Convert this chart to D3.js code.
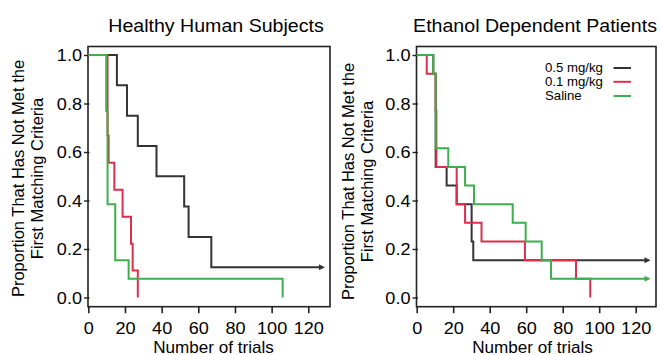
<!DOCTYPE html>
<html><head><meta charset="utf-8">
<script src="https://cdn.jsdelivr.net/npm/d3@7"></script>
<style>
body{margin:0;background:#fff;}
text{font-family:"Liberation Sans",Arial,Helvetica,sans-serif;fill:#000;}
</style></head>
<body>
<svg id="chart" width="660" height="355"></svg>
<script>
// ---------- data ----------
const panelTitles = ["Healthy Human Subjects", "Ethanol Dependent Patients"];
const seriesNames = ["0.5 mg/kg", "0.1 mg/kg", "Saline"];
const xTicks = [0, 20, 40, 60, 80, 100, 120];
const yTicks = [0, 0.2, 0.4, 0.6, 0.8, 1.0];
const yTitleLines = ["Proportion That Has Not Met the", "First Matching Criteria"];
const xTitle = "Number of trials";

// Healthy human subjects (time of step, proportion after step)
const hTime05 = [0, 15.6, 21.1, 27, 37.2, 52.3, 54.7, 67.1, 128];
const hSurv05 = [1, 0.875, 0.75, 0.625, 0.5, 0.375, 0.25, 0.125, 0.125];
const hTime01 = [0, 10.5, 11.1, 14.2, 18.7, 23.3, 24.2, 27];
const hSurv01 = [1, 0.667, 0.556, 0.444, 0.333, 0.222, 0.111, 0];
const hTimeSal = [0, 9.8, 10.5, 14.7, 22, 106];
const hSurvSal = [1, 0.769, 0.385, 0.154, 0.077, 0];
const hCensored = [true, false, false];

// Ethanol dependent patients
const eTime05 = [0, 9.1, 10.4, 16.4, 21.9, 30.1, 31, 127];
const eSurv05 = [1, 0.923, 0.538, 0.462, 0.385, 0.231, 0.154, 0.154];
const eTime01 = [0, 5.5, 10.4, 10.8, 21.9, 26.5, 35.5, 59.3, 87.3, 95.1];
const eSurv01 = [1, 0.923, 0.769, 0.538, 0.385, 0.308, 0.231, 0.154, 0.077, 0];
const eTimeSal = [0, 9.1, 10.4, 17.3, 26.5, 31.4, 52.6, 59.7, 68.5, 73.6, 127];
const eSurvSal = [1, 0.923, 0.615, 0.538, 0.462, 0.385, 0.308, 0.231, 0.154, 0.077, 0.077];
const eCensored = [true, false, true];

// ---------- style / layout ----------
const colors = ["#333333", "#dc2f4e", "#3fae4c"];
const panels = [
  {title: panelTitles[0], times: [hTime05, hTime01, hTimeSal], surv: [hSurv05, hSurv01, hSurvSal], cens: hCensored,
   xr: [88.3, 308.3], frame: [88, 46.5, 330, 306.7], titleX: 216, xTitleX: 213.5, yT: [24.3, 43.3], yTc: 178.5, legend: false},
  {title: panelTitles[1], times: [eTime05, eTime01, eTimeSal], surv: [eSurv05, eSurv01, eSurvSal], cens: eCensored,
   xr: [416.7, 635.7], frame: [416.5, 46.5, 656, 306.7], titleX: 535, xTitleX: 532.5, yT: [353.5, 372.5], yTc: 181.5, legend: true}
];
const yr = [297.5, 55];
const svg = d3.select("#chart");

// widen horizontal text glyphs a little (the reference type is wide)
function stretch(sel, k){
  sel.each(function(){
    const s = d3.select(this);
    const tx = +s.attr("x") || 0, ty = +s.attr("y") || 0;
    s.attr("x", 0).attr("y", 0).attr("transform", `translate(${tx},${ty}) scale(${k},1)`);
  });
}

panels.forEach(p => {
  const x = d3.scaleLinear().domain([0, 120]).range(p.xr);
  const y = d3.scaleLinear().domain([0, 1]).range(yr);
  const g = svg.append("g");
  const [fx0, fy0, fx1, fy1] = p.frame;

  // frame
  g.append("rect").attr("x", fx0).attr("y", fy0).attr("width", fx1 - fx0).attr("height", fy1 - fy0)
    .attr("fill", "none").attr("stroke", "#222").attr("stroke-width", 1.6);

  // x axis
  const xa = g.append("g").attr("transform", `translate(0,${fy1})`)
    .call(d3.axisBottom(x).tickValues(xTicks).tickSize(6.5).tickSizeOuter(0).tickFormat(d3.format("d")));
  xa.select(".domain").remove();
  xa.selectAll("line").attr("stroke", "#222").attr("stroke-width", 1.6);
  xa.selectAll("text").attr("font-size", 16).attr("font-family", "Liberation Sans, Arial, sans-serif")
    .attr("fill", "#000").attr("y", 16).attr("dy", "0.71em");

  // y axis
  const ya = g.append("g").attr("transform", `translate(${fx0 + 1.5},0)`)
    .call(d3.axisLeft(y).tickValues(yTicks).tickSize(5.5).tickSizeOuter(0).tickFormat(d3.format(".1f")));
  ya.select(".domain").remove();
  ya.selectAll("line").attr("stroke", "#222").attr("stroke-width", 1.4);
  ya.selectAll("text").attr("font-size", 16).attr("font-family", "Liberation Sans, Arial, sans-serif")
    .attr("fill", "#000").attr("x", -7.5).attr("dy", "0.36em");

  // series
  const line = d3.line().x(d => x(d[0])).y(d => y(d[1])).curve(d3.curveStepAfter);
  p.times.forEach((ts, i) => {
    const pts = ts.map((t, j) => [t, p.surv[i][j]]);
    g.append("path").datum(pts).attr("d", line).attr("fill", "none")
      .attr("stroke", colors[i]).attr("stroke-width", 2).attr("stroke-linejoin", "miter");
    if (p.cens[i]) {
      const last = pts[pts.length - 1];
      const ax = x(last[0]), ay = y(last[1]);
      g.append("path").attr("d", `M${ax - 4},${ay - 3}L${ax + 2},${ay}L${ax - 4},${ay + 3}Z`)
        .attr("fill", colors[i]);
    }
  });

  // titles
  const t = g.append("text").attr("x", p.titleX).attr("y", 31.5).attr("text-anchor", "middle")
    .attr("font-size", 17.5).text(p.title);
  stretch(t, 1.12);
  const xt = g.append("text").attr("x", p.xTitleX).attr("y", 352.5).attr("text-anchor", "middle")
    .attr("font-size", 16).text(xTitle);
  stretch(xt, 1.07);
  yTitleLines.forEach((s, k) => {
    g.append("text").attr("transform", `translate(${p.yT[k]},${p.yTc}) rotate(-90)`)
      .attr("text-anchor", "middle").attr("font-size", 16.5).text(s);
  });
  stretch(xa.selectAll("text"), 1.13);
  stretch(ya.selectAll("text"), 1.13);

  if (p.legend) {
    const ly = [68, 81.8, 96];
    seriesNames.forEach((n, i) => {
      const tx = g.append("text").attr("x", 545).attr("y", ly[i] + 4.3).attr("font-size", 12).text(n);
      stretch(tx, 1.1);
      g.append("line").attr("x1", 613.5).attr("x2", 631).attr("y1", ly[i]).attr("y2", ly[i])
        .attr("stroke", colors[i]).attr("stroke-width", 2);
    });
  }
});
</script>
</body></html>
